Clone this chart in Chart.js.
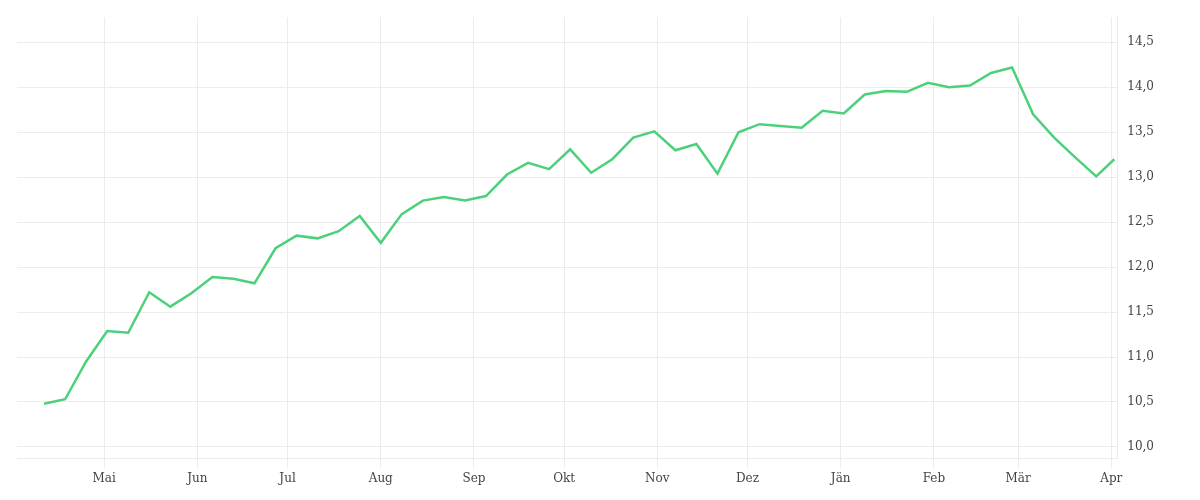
<!DOCTYPE html>
<html>
<head>
<meta charset="utf-8">
<script src="https://cdn.jsdelivr.net/npm/chart.js@4"></script>
<style>
  html, body { margin: 0; padding: 0; background: #fff; }
  #wrap { width: 1200px; height: 500px; }
</style>
</head>
<body>
<div id="wrap"><canvas id="chart"></canvas></div>
<script>
// days counted from 1 May; one point per week
const startDay = -20;
const values = [
    10.48, 10.53, 10.95, 11.29, 11.27, 11.72, 11.56, 11.71, 11.89, 11.87,
    11.82, 12.21, 12.35, 12.32, 12.40, 12.57, 12.27, 12.59, 12.74, 12.78,
    12.74, 12.79, 13.03, 13.16, 13.09, 13.31, 13.05, 13.20, 13.44, 13.51,
    13.30, 13.37, 13.04, 13.50, 13.59, 13.57, 13.55, 13.74, 13.71, 13.92,
    13.96, 13.95, 14.05, 14.00, 14.02, 14.16, 14.22, 13.70, 13.44, 13.22,
    13.01
];
const lastPoint = { day: 336, value: 13.20 };
const monthLabels = ["Mai", "Jun", "Jul", "Aug", "Sep", "Okt", "Nov", "Dez", "Jän", "Feb", "Mär", "Apr"];
const monthDays = [0, 31, 61, 92, 123, 153, 184, 214, 245, 276, 304, 335];
const yTicks = [10.0, 10.5, 11.0, 11.5, 12.0, 12.5, 13.0, 13.5, 14.0, 14.5];

let points = values.map(function(v, i) {
    return { x: startDay + 7 * i, y: v };
});
points.push({ x: lastPoint.day, y: lastPoint.value });

const fontCfg = { family: "'DejaVu Serif', serif", size: 12 };
const gridColor = "#ececec";

new Chart(document.getElementById("chart"), {
    type: "line",
    data: {
        datasets: [{
            data: points,
            borderColor: "#4cd17a",
            borderWidth: 2.5,
            pointRadius: 0,
            tension: 0,
            fill: false
        }]
    },
    options: {
        responsive: true,
        maintainAspectRatio: false,
        animation: false,
        layout: { padding: { left: 17, right: 36, top: 4, bottom: 11 } },
        plugins: { legend: { display: false }, tooltip: { enabled: false } },
        scales: {
            x: {
                type: "linear",
                min: -29,
                max: 337,
                afterBuildTicks: function(axis) {
                    axis.ticks = monthDays.map(function(d) { return { value: d }; });
                },
                ticks: {
                    autoSkip: false,
                    maxRotation: 0,
                    color: "#444",
                    font: fontCfg,
                    callback: function(value) {
                        const i = monthDays.indexOf(value);
                        return i >= 0 ? monthLabels[i] : "";
                    }
                },
                grid: { color: gridColor, tickLength: 10 },
                border: { color: gridColor }
            },
            y: {
                position: "right",
                min: 9.87,
                max: 14.78,
                afterBuildTicks: function(axis) {
                    axis.ticks = yTicks.map(function(v) { return { value: v }; });
                },
                ticks: {
                    color: "#444",
                    font: fontCfg,
                    padding: 10,
                    callback: function(value) {
                        return value.toFixed(1).replace(".", ",");
                    }
                },
                grid: { color: gridColor, tickLength: 0 },
                border: { color: gridColor }
            }
        }
    }
});
</script>
</body>
</html>
